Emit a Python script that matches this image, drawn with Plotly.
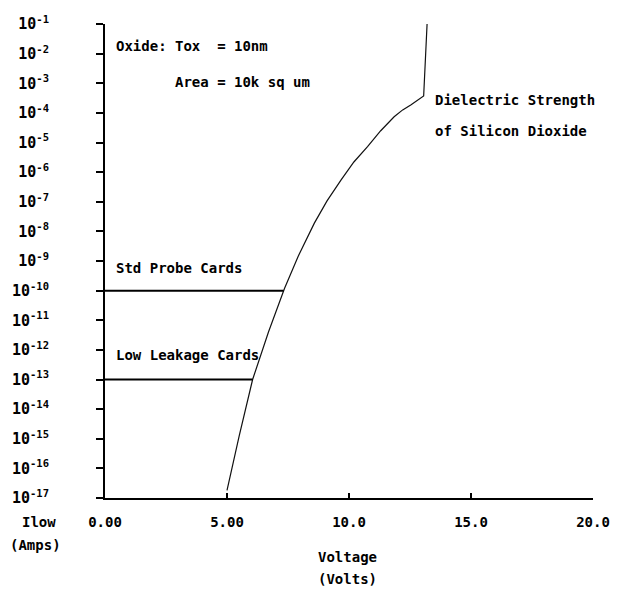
import plotly.graph_objects as go

# Oxide breakdown curve: applied voltage (V) vs. leakage current (A)
volts = [5.0, 5.5, 6.05, 6.7, 7.36, 7.91, 8.58, 9.1, 9.67, 10.2, 10.76,
         11.3, 11.85, 12.2, 12.53, 13.06, 13.2]
amps = [1.8e-17, 1.25e-15, 1e-13, 4e-12, 1.2e-10, 1.4e-9, 1.9e-8, 1.07e-7,
        5.4e-7, 2.2e-6, 7.2e-6, 2.5e-5, 7.4e-5, 1.26e-4, 1.86e-4, 3.7e-4, 1e-1]

# Measurement floors of the two probe-card types and where they meet the curve
card_names = ["Std Probe Cards", "Low Leakage Cards"]
card_floor = [1e-10, 1e-13]
card_volts = [7.32, 6.05]

# Axis ticks
decades = list(range(-17, 0))
x_ticks = [0, 5, 10, 15, 20]
x_tick_text = ["0.00", "5.00", "10.0", "15.0", "20.0"]

FONT = "DejaVu Sans Mono"
W, H = 636, 593
L, R, T, B = 103, 43, 24, 95
PW, PH = W - L - R, H - T - B


def paper_x(px):
    return (px - L) / PW


def paper_y(py):
    return (H - B - py) / PH


def bold(s):
    return f"<b>{s}</b>"


fig = go.Figure()

fig.add_trace(go.Scatter(
    x=volts, y=amps, mode="lines",
    line=dict(color="#111111", width=1.2),
    hoverinfo="skip",
))

for name, floor, v in zip(card_names, card_floor, card_volts):
    fig.add_trace(go.Scatter(
        x=[0, v], y=[floor, floor], mode="lines",
        line=dict(color="black", width=2),
        name=name, hoverinfo="skip",
    ))

nb = "\u00a0"
notes = [
    (f"Oxide:{nb}Tox{nb}{nb}={nb}10nm", 0.37, -1.74),
    (f"Area{nb}={nb}10k{nb}sq{nb}um", 2.78, -2.96),
    (f"Dielectric{nb}Strength", 13.43, -3.57),
    (f"of{nb}Silicon{nb}Dioxide", 13.43, -4.61),
    (f"Std{nb}Probe{nb}Cards", 0.37, -9.24),
    (f"Low{nb}Leakage{nb}Cards", 0.37, -12.17),
]
for text, x, ylog in notes:
    fig.add_annotation(
        text=bold(text), x=x, y=ylog, xref="x", yref="y",
        xanchor="left", yanchor="middle", showarrow=False,
        font=dict(family=FONT, size=14, color="black"),
    )

titles = [
    ("Ilow", 37, 522),
    ("(Amps)", 33, 545),
    ("Voltage", 346, 557),
    ("(Volts)", 346, 579),
]
for text, px, py in titles:
    fig.add_annotation(
        text=bold(text), x=paper_x(px), y=paper_y(py), xref="paper", yref="paper",
        xanchor="center", yanchor="middle", showarrow=False,
        font=dict(family=FONT, size=14, color="black"),
    )

fig.update_xaxes(
    range=[0, 20], tickvals=x_ticks, ticktext=[bold(t) for t in x_tick_text],
    ticks="inside", ticklen=5, tickwidth=2, tickcolor="black",
    showline=True, linecolor="black", linewidth=2,
    showgrid=False, zeroline=False, ticklabelstandoff=10,
    tickfont=dict(family=FONT, size=14, color="black"),
)
fig.update_yaxes(
    type="log", range=[-17, -1],
    tickvals=[10.0 ** d for d in decades],
    ticktext=[bold(f"10<sup>{d}</sup>") for d in decades],
    ticks="outside", ticklen=7, tickwidth=2, tickcolor="black",
    showline=True, linecolor="black", linewidth=2,
    showgrid=False, zeroline=False, ticklabelstandoff=44,
    tickfont=dict(family=FONT, size=15, color="black"),
)

fig.update_layout(
    width=W, height=H,
    margin=dict(l=L, r=R, t=T, b=B),
    plot_bgcolor="white", paper_bgcolor="white",
    showlegend=False,
    font=dict(family=FONT, size=14, color="black"),
)

fig.write_html("out.html")
